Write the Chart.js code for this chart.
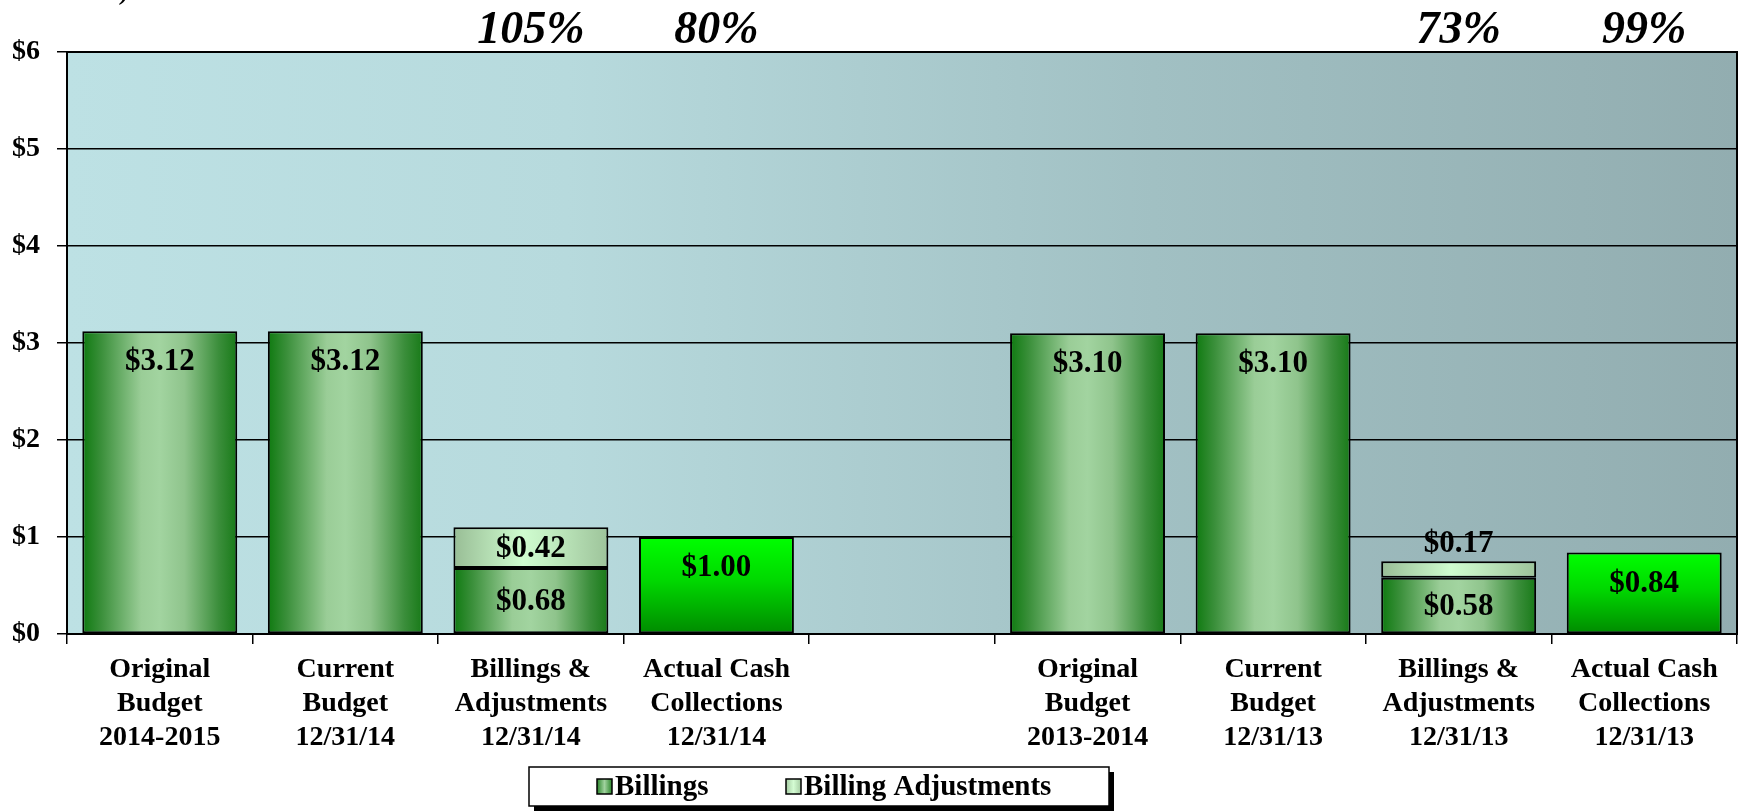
<!DOCTYPE html>
<html>
<head>
<meta charset="utf-8">
<script src="https://cdn.jsdelivr.net/npm/chart.js@4/dist/chart.umd.min.js"></script>
<style>
  html, body { margin: 0; padding: 0; background: #ffffff; }
  #wrap { width: 1744px; height: 811px; }
</style>
</head>
<body>
<div id="wrap"><canvas id="c" width="1744" height="811"></canvas></div>
<script>
// ---- Data ----
const categories = [
  ['Original', 'Budget', '2014-2015'],
  ['Current', 'Budget', '12/31/14'],
  ['Billings &', 'Adjustments', '12/31/14'],
  ['Actual Cash', 'Collections', '12/31/14'],
  '',
  ['Original', 'Budget', '2013-2014'],
  ['Current', 'Budget', '12/31/13'],
  ['Billings &', 'Adjustments', '12/31/13'],
  ['Actual Cash', 'Collections', '12/31/13']
];
const billings     = [3.12, 3.12, 0.68, null, null, 3.10, 3.10, 0.58, null];
const adjustments  = [null, null, 0.42, null, null, null, null, 0.17, null];
const collections  = [null, null, null, 1.00, null, null, null, null, 0.84];
const percentLabels = ['', '', '105%', '80%', '', '', '', '73%', '99%'];
const yTickValues = [0, 1, 2, 3, 4, 5, 6];

const SERIF = '"Liberation Serif", "Times New Roman", serif';
const BAR_PCT = 0.835;

function barBounds(chart, i) {
  const x = chart.scales.x;
  const slot = (x.right - x.left) / categories.length;
  const cx = x.getPixelForValue(i);
  return [cx - slot * BAR_PCT / 2, cx + slot * BAR_PCT / 2];
}

function billingsFill(ctx) {
  const chart = ctx.chart;
  if (!chart.chartArea || ctx.type !== 'data') return '#4a9a48';
  const [l, r] = barBounds(chart, ctx.dataIndex);
  const g = chart.ctx.createLinearGradient(l, 0, r, 0);
  g.addColorStop(0, '#0f7a10');
  g.addColorStop(0.12, '#3a8f3a');
  g.addColorStop(0.38, '#9acd97');
  g.addColorStop(0.5, '#a2d4a0');
  g.addColorStop(0.66, '#8fc48c');
  g.addColorStop(0.88, '#3b8e3b');
  g.addColorStop(1, '#187a18');
  return g;
}
function adjFill(ctx) {
  const chart = ctx.chart;
  if (!chart.chartArea || ctx.type !== 'data') return '#bde6bb';
  const [l, r] = barBounds(chart, ctx.dataIndex);
  const g = chart.ctx.createLinearGradient(l, 0, r, 0);
  g.addColorStop(0, '#98bd95');
  g.addColorStop(0.45, '#cffccf');
  g.addColorStop(0.6, '#c4efc3');
  g.addColorStop(1, '#9dc39a');
  return g;
}
function cashFill(ctx) {
  const chart = ctx.chart;
  if (!chart.chartArea || ctx.type !== 'data') return '#00c800';
  const v = collections[ctx.dataIndex] || 0;
  const y = chart.scales.y;
  const top = y.getPixelForValue(v), bot = y.getPixelForValue(0);
  const g = chart.ctx.createLinearGradient(0, top, 0, bot);
  g.addColorStop(0, '#00ff00');
  g.addColorStop(0.45, '#00d800');
  g.addColorStop(1, '#008a00');
  return g;
}

const backgroundPlugin = {
  id: 'plotBg',
  beforeDraw(chart) {
    const a = chart.chartArea, c = chart.ctx;
    c.save();
    const g = c.createLinearGradient(a.left, 0, a.right, 0);
    g.addColorStop(0, '#bde1e4');
    g.addColorStop(0.3, '#b7dadd');
    g.addColorStop(0.65, '#a1c0c3');
    g.addColorStop(1, '#92adb0');
    c.fillStyle = g;
    c.fillRect(a.left, a.top, a.right - a.left, a.bottom - a.top);
    // clipped fragment of a title glyph at the very top edge
    c.fillStyle = '#000';
    c.font = 'italic bold 24px ' + SERIF;
    c.textAlign = 'left';
    c.textBaseline = 'alphabetic';
    c.fillText(')', 121, 0);
    c.restore();
  },
  afterDatasetsDraw(chart) {
    const a = chart.chartArea, c = chart.ctx;
    c.save();
    c.strokeStyle = '#000';
    c.lineWidth = 2;
    c.strokeRect(a.left, a.top, a.right - a.left, a.bottom - a.top);
    c.restore();
  }
};

const labelPlugin = {
  id: 'barLabels',
  afterDatasetsDraw(chart) {
    const c = chart.ctx;
    c.save();
    c.fillStyle = '#000';
    c.textAlign = 'center';
    c.textBaseline = 'middle';
    c.font = 'bold 31px ' + SERIF;
    chart.data.datasets.forEach((ds, di) => {
      const meta = chart.getDatasetMeta(di);
      meta.data.forEach((el, i) => {
        const v = ds.data[i];
        if (v == null) return;
        const top = Math.min(el.y, el.base), bot = Math.max(el.y, el.base);
        const h = bot - top;
        let y;
        const stackedAbove = di === 0 && adjustments[i] != null;
        if (h < 30) y = top - 17;
        else if (di === 1 || stackedAbove) y = (top + bot) / 2 + 1;
        else y = top + 31;
        c.fillText('$' + v.toFixed(2), el.x, y);
      });
    });
    // percentage labels above the plot
    c.font = 'italic bold 46px ' + SERIF;
    c.textBaseline = 'alphabetic';
    const x = chart.scales.x;
    percentLabels.forEach((t, i) => {
      if (t) c.fillText(t, x.getPixelForValue(i), 43);
    });
    c.restore();
  }
};

const legendPlugin = {
  id: 'boxLegend',
  afterDraw(chart) {
    const c = chart.ctx;
    const L = 529, T = 767, W = 580, H = 39;
    c.save();
    c.fillStyle = '#000';
    c.fillRect(L + 5, T + 5, W, H);
    c.fillStyle = '#fff';
    c.fillRect(L, T, W, H);
    c.strokeStyle = '#000';
    c.lineWidth = 1.5;
    c.strokeRect(L, T, W, H);
    const items = [
      { text: chart.data.datasets[0].label, sx: 597, stops: ['#2a852a', '#a0d29e', '#2a852a'] },
      { text: chart.data.datasets[1].label, sx: 786, stops: ['#a6cca3', '#d4fcd3', '#a6cca3'] }
    ];
    c.font = 'bold 29px ' + SERIF;
    c.textBaseline = 'middle';
    c.textAlign = 'left';
    items.forEach(it => {
      const sy = 779, s = 15;
      const g = c.createLinearGradient(it.sx, 0, it.sx + s, 0);
      g.addColorStop(0, it.stops[0]);
      g.addColorStop(0.5, it.stops[1]);
      g.addColorStop(1, it.stops[2]);
      c.fillStyle = g;
      c.fillRect(it.sx, sy, s, s);
      c.strokeStyle = '#000';
      c.lineWidth = 1.5;
      c.strokeRect(it.sx, sy, s, s);
      c.fillStyle = '#000';
      c.fillText(it.text, it.sx + s + 3, 788);
    });
    c.restore();
  }
};

new Chart(document.getElementById('c'), {
  type: 'bar',
  data: {
    labels: categories,
    datasets: [
      { label: 'Billings', data: billings, backgroundColor: billingsFill, borderColor: '#000', borderWidth: 2, borderSkipped: false },
      { label: 'Billing Adjustments', data: adjustments, backgroundColor: adjFill, borderColor: '#000', borderWidth: 2, borderSkipped: false },
      { label: 'Collections', data: collections, backgroundColor: cashFill, borderColor: '#000', borderWidth: 2, borderSkipped: false }
    ]
  },
  options: {
    responsive: false,
    animation: false,
    devicePixelRatio: 1,
    layout: { padding: { top: 52, right: 7, left: 0, bottom: 0 } },
    datasets: { bar: { barPercentage: BAR_PCT, categoryPercentage: 1 } },
    plugins: {
      legend: { display: false },
      tooltip: { enabled: false },
      title: { display: false }
    },
    scales: {
      x: {
        stacked: true,
        grid: { offset: true, drawOnChartArea: false, drawTicks: true, tickLength: 10, color: '#000', lineWidth: 1.5 },
        border: { display: true, color: '#000', width: 2 },
        ticks: {
          color: '#000', padding: 9, maxRotation: 0, autoSkip: false,
          font: { family: SERIF, size: 28, weight: 'bold', lineHeight: '34px' }
        },
        afterFit(scale) { scale.height = 177; }
      },
      y: {
        stacked: true,
        min: 0, max: 6,
        afterBuildTicks(scale) { scale.ticks = yTickValues.map(v => ({ value: v })); },
        grid: { color: '#000', lineWidth: 1.5, tickLength: 10, drawTicks: true },
        border: { display: true, color: '#000', width: 2 },
        ticks: {
          color: '#000', padding: 17,
          font: { family: SERIF, size: 28, weight: 'bold' },
          callback: v => '$' + v
        },
        afterFit(scale) { scale.width = 67; }
      }
    }
  },
  plugins: [backgroundPlugin, labelPlugin, legendPlugin]
});
</script>
</body>
</html>
